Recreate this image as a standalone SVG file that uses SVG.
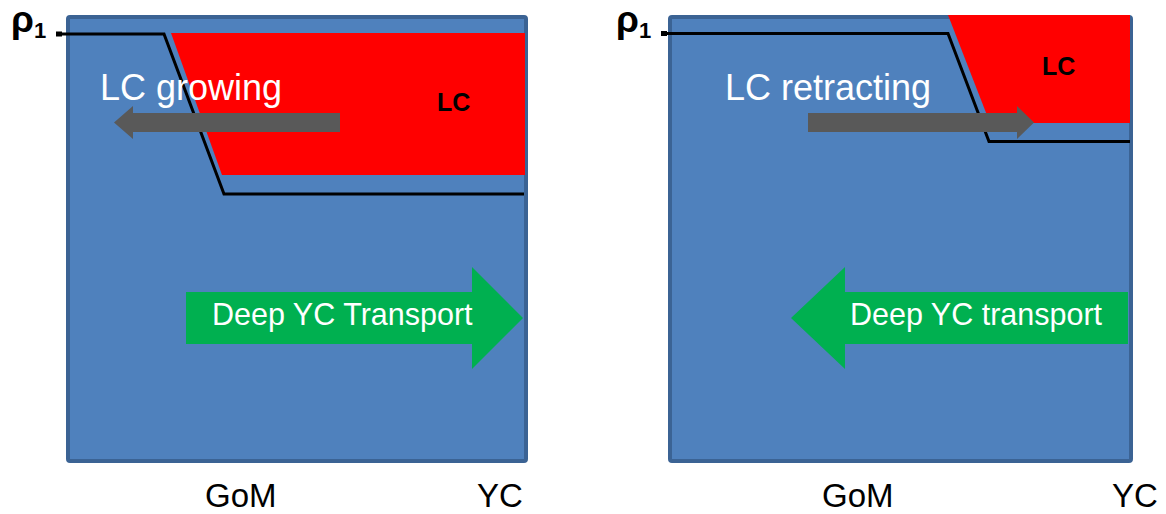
<svg xmlns="http://www.w3.org/2000/svg" width="1166" height="514" viewBox="0 0 1166 514">
  <style>
    .box { fill: #4f81bd; stroke: #3b6394; stroke-width: 4; }
    .lc { fill: #ff0000; }
    .iso { fill: none; stroke: #000000; stroke-width: 3; stroke-linejoin: miter; }
    .grey { fill: #595959; }
    .green { fill: #00b050; }
    .t { font-family: "Liberation Sans", Arial, sans-serif; }
    .white { fill: #ffffff; }
    .black { fill: #000000; }
    .big { font-size: 36px; }
    .mid { font-size: 30.5px; }
    .axis { font-size: 33px; }
    .lcl { font-size: 25px; font-weight: bold; }
    .rho { font-size: 37px; font-weight: bold; }
    .sub { font-size: 22px; }
  </style>

  <!-- Left panel: Loop Current growing -->
  <g id="panel-growing">
    <rect class="box" x="68" y="17" width="458" height="444" rx="2"/>
    <polygon class="lc" points="171,33 525,33 525,175 222,175"/>
    <text class="t black lcl" x="437" y="111">LC</text>
    <text class="t black rho" x="11" y="32">ρ<tspan class="sub" dy="6">1</tspan></text>
    <rect class="black" x="56" y="31.5" width="6" height="5"/>
    <polyline class="iso" points="56,34 164,34 224,194 524,194"/>
    <text class="t white big" x="100" y="100">LC growing</text>
    <polygon class="grey" points="114,122.5 133,106 133,113 340,113 340,132 133,132 133,139"/>
    <polygon class="green" points="186,292 472,292 472,267 523,318 472,369 472,344 186,344"/>
    <text class="t white mid" x="212" y="325">Deep YC Transport</text>
    <text class="t black axis" x="205" y="507">GoM</text>
    <text class="t black axis" x="477" y="507">YC</text>
  </g>

  <!-- Right panel: Loop Current retracting -->
  <g id="panel-retracting">
    <rect class="box" x="670" y="17" width="461" height="444" rx="2"/>
    <polygon class="lc" points="948,15 1130,15 1130,123 990,123"/>
    <text class="t black lcl" x="1042" y="75">LC</text>
    <text class="t black rho" x="616" y="32">ρ<tspan class="sub" dy="6">1</tspan></text>
    <rect class="black" x="661" y="31" width="6" height="5"/>
    <polyline class="iso" points="661,33.5 948,33.5 989,141.5 1130,141.5"/>
    <text class="t white big" x="725" y="100">LC retracting</text>
    <polygon class="grey" points="808,113 1017,113 1017,106 1034,122.5 1017,139 1017,132 808,132"/>
    <polygon class="green" points="1128,292 845,292 845,267 791,318 845,369 845,344 1128,344"/>
    <text class="t white mid" x="850" y="325">Deep YC transport</text>
    <text class="t black axis" x="822" y="507">GoM</text>
    <text class="t black axis" x="1112" y="507">YC</text>
  </g>
</svg>
